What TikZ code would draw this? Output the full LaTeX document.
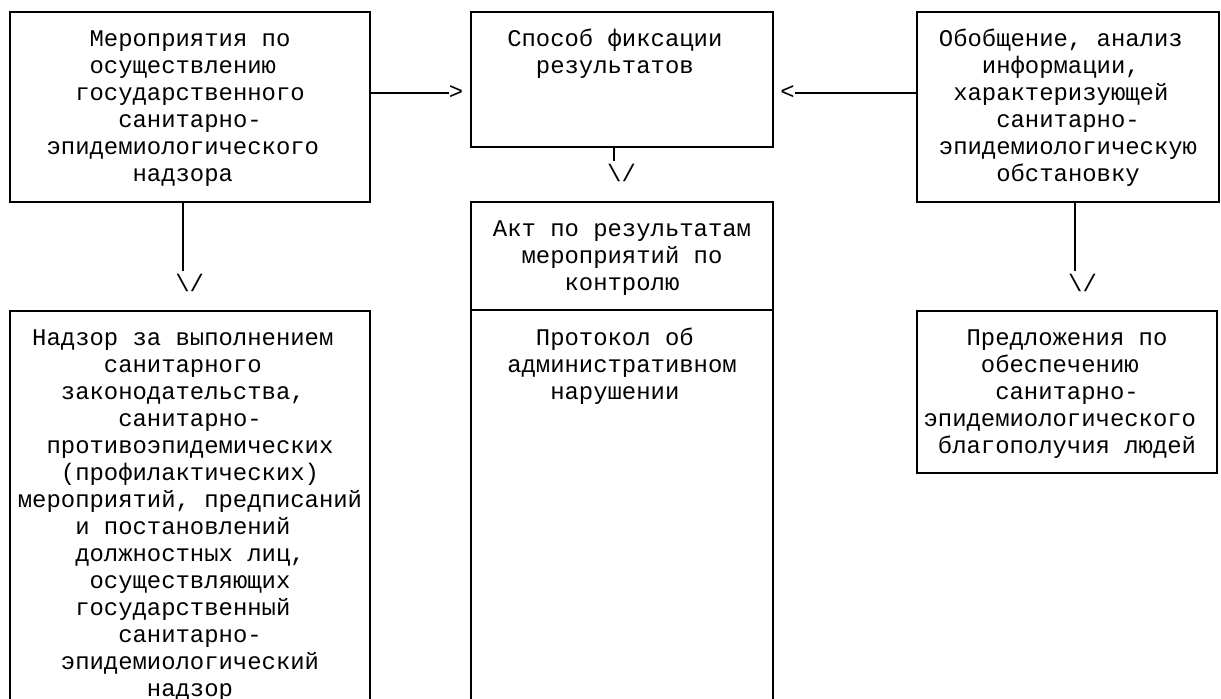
\documentclass[tikz,border=0pt]{standalone}
\usepackage{fontspec}
\newfontfamily\monofam{Liberation Mono}
\newcommand\pd{\hphantom{0}}
\newcommand\st{\rule{0pt}{10pt}}
\begin{document}
\begin{tikzpicture}[x=0.5pt,y=-0.5pt,
  box/.style={draw, line width=1pt, inner sep=0pt, outer sep=0pt},
  txt/.style={font=\monofam\fontsize{11.95}{13.5}\selectfont, align=center, inner sep=0pt, anchor=north},
  sym/.style={font=\monofam\fontsize{11.95}{13.5}\selectfont, inner sep=0pt, outer sep=0pt},
  ln/.style={line width=1pt}]
\useasboundingbox (0,0) rectangle (1221,699);
\clip (0,0) rectangle (1221,699);
% boxes
\node[box, minimum width=180pt, minimum height=95pt] (A) at (190,107) {};
\node[box, minimum width=151pt, minimum height=67.75pt] (B) at (622,79.75) {};
\node[box, minimum width=151pt, minimum height=95pt] (C) at (1068,107) {};
\node[box, minimum width=151pt, minimum height=54pt] (D) at (622,256) {};
\node[box, minimum width=151pt, minimum height=215pt] (E) at (622,525) {};
\node[box, minimum width=180pt, minimum height=214.5pt] (F) at (190,525.5) {};
\node[box, minimum width=150pt, minimum height=81pt] (G) at (1067,392) {};
% texts
\node[txt] (tA) at (190,26) {\st Мероприятия по\\осуществлению\pd\\государственного\\санитарно-\\эпидемиологического\pd\\надзора\pd};
\node[txt] (tB) at (622,26) {\st Способ фиксации\pd\\результатов\pd};
\node[txt] (tC) at (1068,26) {\st Обобщение, анализ\pd\\информации,\pd\\характеризующей\pd\\санитарно-\\эпидемиологическую\\обстановку};
\node[txt] (tD) at (622,216) {\st Акт по результатам\\мероприятий по\\контролю};
\node[txt] (tE) at (622,325) {\st Протокол об\pd\\административном\\нарушении\pd};
\node[txt] (tF) at (190,325) {\st Надзор за выполнением\pd\\санитарного\pd\\законодательства,\pd\\санитарно-\\противоэпидемических\\(профилактических)\\мероприятий, предписаний\\и постановлений\pd\\должностных лиц,\\осуществляющих\\государственный\pd\\санитарно-\\эпидемиологический\\надзор};
\node[txt] (tG) at (1067,325) {\st Предложения по\\обеспечению\pd\\санитарно-\\эпидемиологического\pd\\благополучия людей};
% arrow heads as text
\node[sym] (gt) at (456,93) {>};
\node[sym] (lt) at (787.5,93) {<};
\node[sym] (v1) at (189.7,282.5) {\textbackslash/};
\node[sym] (v2) at (621.5,173) {\textbackslash/};
\node[sym] (v3) at (1082.5,282.5) {\textbackslash/};
% connectors
\draw[ln] (A.east |- gt) -- (gt.west);
\draw[ln] (lt.east) -- (C.west |- lt);
\draw[ln] ([xshift=-3.585pt]v1.north |- A.south) -- ([xshift=-3.585pt,yshift=1.5pt]v1.north);
\draw[ln] ([xshift=-3.585pt]v2.north |- B.south) -- ([xshift=-3.585pt,yshift=1.5pt]v2.north);
\draw[ln] ([xshift=-3.585pt]v3.north |- C.south) -- ([xshift=-3.585pt,yshift=1.5pt]v3.north);
\end{tikzpicture}
\end{document}
